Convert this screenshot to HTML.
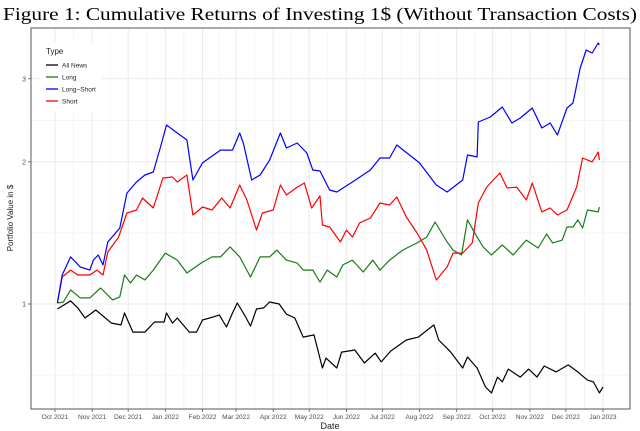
<!DOCTYPE html>
<html><head><meta charset="utf-8"><style>
html,body{margin:0;padding:0;background:#fff;}
svg{display:block;font-family:"Liberation Sans",sans-serif;}
</style></head><body>
<svg id="chart" width="640" height="431" viewBox="0 0 640 431" xmlns="http://www.w3.org/2000/svg">
<text x="320" y="20" text-anchor="middle" font-family="'Liberation Serif',serif" font-size="17.5" textLength="634" lengthAdjust="spacingAndGlyphs">Figure 1: Cumulative Returns of Investing 1$ (Without Transaction Costs)</text>
<g id="grid"></g>
<g id="series"></g>
<rect x="31" y="28" width="599" height="381" fill="none" stroke="#555" stroke-width="1"/>
<g id="axes"></g>
<text x="330" y="429" text-anchor="middle" font-size="9" fill="#222">Date</text>
<text transform="translate(13,218) rotate(-90)" text-anchor="middle" font-size="8" fill="#222">Portfolio Value in $</text>
<g>
<rect x="40" y="42" width="62" height="70" fill="#fff"/>
<text x="46" y="54" font-size="8" fill="#222">Type</text>
<g><line x1="46" y1="65" x2="58" y2="65" stroke="#000" stroke-width="1.3"/><text x="62" y="67.5" font-size="6.5" fill="#222">All News</text></g>
<g><line x1="46" y1="77" x2="58" y2="77" stroke="#1a7a1a" stroke-width="1.3"/><text x="62" y="79.5" font-size="6.5" fill="#222">Long</text></g>
<g><line x1="46" y1="89" x2="58" y2="89" stroke="#0000ff" stroke-width="1.3"/><text x="62" y="91.5" font-size="6.5" fill="#222">Long−Short</text></g>
<g><line x1="46" y1="101" x2="58" y2="101" stroke="#ff0000" stroke-width="1.3"/><text x="62" y="103.5" font-size="6.5" fill="#222">Short</text></g>
</g>
</svg>
<script>
// days since 2021-10-01
const monthLabels = ["Oct 2021","Nov 2021","Dec 2021","Jan 2022","Feb 2022","Mar 2022","Apr 2022","May 2022","Jun 2022","Jul 2022","Aug 2022","Sep 2022","Oct 2022","Nov 2022","Dec 2022","Jan 2023"];
const monthDays = [0,31,61,92,123,151,182,212,243,273,304,335,365,396,426,457];
const yTicks = [1,2,3];
const yMinor = [0.7071,1.4142,2.4495];

const blueDays = [2,6,13,21,29,32,36,40,44,54,60,68,75,82,88,93,102,110,115,123,138,148,154,157,164,171,179,188,193,202,210,215,221,229,235,248,263,271,279,285,304,318,327,340,344,352,353,363,373,381,388,398,406,413,419,427,432,438,443,448,453,454];
const blueVals = [1.005,1.152,1.258,1.198,1.180,1.239,1.270,1.210,1.353,1.449,1.718,1.813,1.876,1.904,2.151,2.394,2.303,2.226,1.831,1.990,2.119,2.119,2.303,2.193,1.831,1.876,2.018,2.303,2.140,2.193,2.089,1.923,1.913,1.744,1.727,1.813,1.923,2.038,2.038,2.172,1.990,1.787,1.727,1.831,2.069,2.049,2.430,2.490,2.614,2.418,2.478,2.601,2.360,2.418,2.280,2.601,2.666,3.162,3.452,3.402,3.572,3.537];

const redDays = [2,6,13,19,29,35,40,44,53,60,68,73,82,90,98,102,110,115,123,131,139,146,154,160,168,173,182,188,193,202,208,214,221,223,229,238,243,248,254,263,271,279,285,293,302,310,318,327,332,340,348,353,360,371,377,385,393,398,406,413,419,427,435,440,448,453,454];
const redVals = [1.005,1.141,1.180,1.152,1.152,1.180,1.152,1.289,1.386,1.559,1.582,1.677,1.597,1.849,1.858,1.813,1.876,1.544,1.605,1.582,1.677,1.597,1.787,1.661,1.435,1.559,1.582,1.787,1.702,1.769,1.804,1.597,1.694,1.470,1.456,1.353,1.435,1.386,1.485,1.521,1.637,1.621,1.685,1.529,1.414,1.301,1.124,1.198,1.282,1.282,1.347,1.637,1.769,1.895,1.761,1.769,1.661,1.804,1.567,1.597,1.544,1.582,1.769,2.038,2.000,2.099,2.018];

const greenDays = [2,7,13,21,29,38,48,54,58,63,68,75,82,92,102,110,123,131,138,146,154,163,171,179,185,193,202,207,215,221,227,235,240,248,257,265,271,279,290,302,310,317,327,332,339,344,352,357,364,373,382,393,403,410,415,423,427,432,436,440,444,453,454];
const greenVals = [1.005,1.010,1.071,1.030,1.030,1.081,1.020,1.035,1.152,1.108,1.152,1.124,1.180,1.282,1.239,1.163,1.227,1.258,1.258,1.321,1.258,1.141,1.258,1.258,1.301,1.239,1.221,1.180,1.180,1.113,1.180,1.141,1.210,1.239,1.169,1.239,1.180,1.239,1.301,1.347,1.386,1.492,1.353,1.301,1.270,1.507,1.386,1.321,1.270,1.334,1.270,1.366,1.314,1.407,1.347,1.366,1.456,1.456,1.507,1.449,1.582,1.567,1.605];

const blackDays = [2,13,19,25,34,47,55,58,65,75,83,91,93,98,102,112,118,123,132,137,143,148,152,158,163,168,174,179,187,193,200,207,216,223,226,235,239,250,258,267,272,280,293,303,316,320,330,340,344,352,359,364,369,373,378,388,395,402,408,418,428,436,444,449,454,457];
const blackVals = [0.976,1.015,0.981,0.934,0.971,0.911,0.903,0.957,0.872,0.872,0.916,0.916,0.957,0.911,0.934,0.872,0.872,0.925,0.939,0.948,0.894,0.957,1.005,0.948,0.898,0.976,0.981,1.010,1.000,0.952,0.934,0.851,0.860,0.732,0.768,0.732,0.791,0.799,0.750,0.787,0.754,0.795,0.839,0.851,0.903,0.839,0.791,0.732,0.772,0.732,0.667,0.648,0.700,0.684,0.728,0.700,0.728,0.700,0.739,0.718,0.743,0.718,0.690,0.684,0.648,0.667];

const NS = "http://www.w3.org/2000/svg";
function xScale(d){ return 55 + d * (603 - 55) / 457; }
function yScale(v){ return 304 - 205 * Math.log(v); }

const grid = document.getElementById('grid');
const axes = document.getElementById('axes');
function mk(tag, attrs, parent){ const e = document.createElementNS(NS, tag); for (const k in attrs) e.setAttribute(k, attrs[k]); parent.appendChild(e); return e; }

// minor vertical grid (mid-months)
for (let i = 0; i < monthDays.length - 1; i++) {
  const xm = xScale((monthDays[i] + monthDays[i+1]) / 2);
  const l = mk('line', {x1: xm, x2: xm, y1: 28, y2: 409, stroke: '#f2f2f2', 'stroke-width': 0.8}, grid);
  
  
}
yMinor.forEach(v => {
  const l = mk('line', {x1: 31, x2: 630, y1: yScale(v), y2: yScale(v), stroke: '#f2f2f2', 'stroke-width': 0.8}, grid);
  
  
});
monthDays.forEach((d, i) => {
  const x = xScale(d);
  const l = mk('line', {x1: x, x2: x, y1: 28, y2: 409, stroke: '#ebebeb', 'stroke-width': 1}, grid);
  
  
  const t = mk('line', {x1: x, x2: x, y1: 409, y2: 412, stroke: '#555', 'stroke-width': 0.8}, axes);
  
  
  const tx = mk('text', {x: x, y: 419, 'text-anchor': 'middle', 'font-size': 6.6, fill: '#4d4d4d'}, axes);
  tx.textContent = monthLabels[i];
  
  
});
yTicks.forEach(v => {
  const y = yScale(v);
  const l = mk('line', {x1: 31, x2: 630, y1: y, y2: y, stroke: '#ebebeb', 'stroke-width': 1}, grid);
  
  
  const t = mk('line', {x1: 28, x2: 31, y1: y, y2: y, stroke: '#555', 'stroke-width': 0.8}, axes);
  
  
  const tx = mk('text', {x: 26, y: y + 2.5, 'text-anchor': 'end', 'font-size': 7, fill: '#4d4d4d'}, axes);
  tx.textContent = String(v);
  
  
});

const seriesG = document.getElementById('series');
function drawLine(days, vals, color, name){
  const pts = days.map((d, i) => xScale(d).toFixed(1) + ',' + yScale(vals[i]).toFixed(1)).join(' ');
  const p = mk('polyline', {points: pts, fill: 'none', stroke: color, 'stroke-width': 1.2, 'stroke-linejoin': 'round'}, seriesG);
  
  
}
drawLine(blackDays, blackVals, '#000000', 'line-all-news');
drawLine(greenDays, greenVals, '#1a7a1a', 'line-long');
drawLine(redDays, redVals, '#ff0000', 'line-short');
drawLine(blueDays, blueVals, '#0000ff', 'line-long-short');
</script>
</body></html>
